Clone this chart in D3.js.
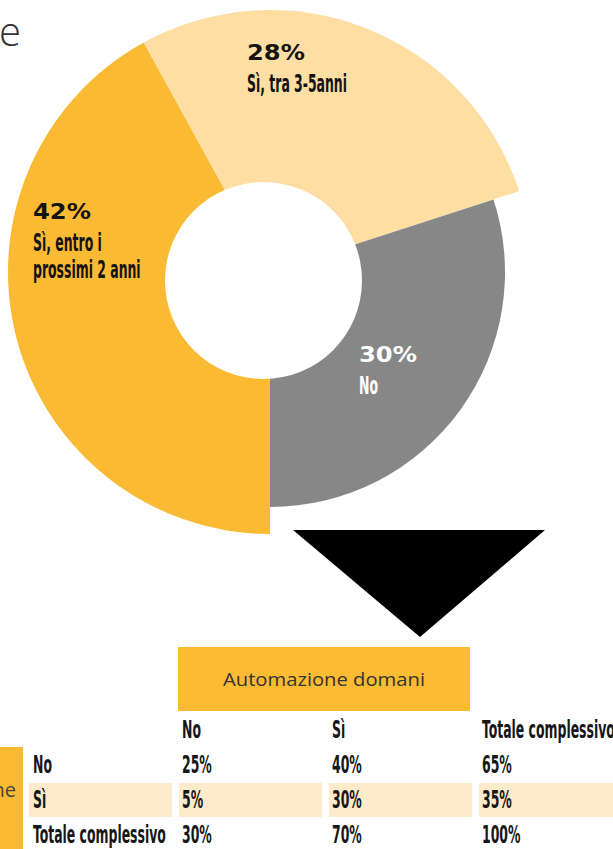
<!DOCTYPE html>
<html><head><meta charset="utf-8">
<script src="https://cdn.jsdelivr.net/npm/d3@7"></script>
<style>body{margin:0;background:#fff}svg{display:block}</style>
</head><body>
<script>
// ---- data ----
const sliceLabels = ["Sì, entro i\nprossimi 2 anni", "Sì, tra 3-5anni", "No"];
const sliceValues = [42, 28, 30];
const colHeaders = ["No", "Sì", "Totale complessivo"];
const rowHeaders = ["No", "Sì", "Totale complessivo"];
const cellValues = [[25, 40, 65], [5, 30, 35], [30, 70, 100]];
const tableTitle = "Automazione domani";
const rowTitle = "Automazione oggi";

// ---- style ----
const W = 613, H = 849;
const sliceColors = ["#FBBA33", "#FEDEA3", "#878787"];
const sliceRadius = [262, 262, 235];
const labelAt = [[33, 219], [247, 60], [359, 362]];
const labelInk = ["#141414", "#141414", "#ffffff"];
const condFont = "'Liberation Sans Narrow','DejaVu Sans Condensed','Liberation Sans',sans-serif";
const pctFont = "'DejaVu Sans',sans-serif";
const condSize = 25;

const svg = d3.select("body").append("svg").attr("width", W).attr("height", H);

// cut-off title
svg.append("text").attr("x", -1).attr("y", 46).text("e")
  .attr("font-family", "'Open Sans',sans-serif").attr("font-weight", 300)
  .attr("font-size", 40).attr("fill", "#333");

// ---- donut ----
const pie = d3.pie().sort(null).startAngle(Math.PI).endAngle(3 * Math.PI);
const arcs = pie(sliceValues);
const g = svg.append("g").attr("transform", "translate(270,272)");
g.selectAll("path").data(arcs).join("path")
  .attr("d", (a, i) => d3.arc().innerRadius(0).outerRadius(sliceRadius[i])(a))
  .attr("fill", (a, i) => sliceColors[i]);
svg.append("circle").attr("cx", 263.5).attr("cy", 280.5).attr("r", 98.5).attr("fill", "#fff");

function fitWidth(sel, target) {
  const w = sel.node().getComputedTextLength();
  return target / w;
}
const probe = svg.append("text").attr("font-family", condFont).attr("font-weight", 700)
  .attr("font-size", condSize).text("Totale complessivo");
const kCond = fitWidth(probe, 133);
probe.remove();
const probe2 = svg.append("text").attr("font-family", pctFont).attr("font-weight", 700)
  .attr("font-size", 22).text("42%");
const kPct = fitWidth(probe2, 58);
probe2.remove();

function condText(parent, str, x, y, fill) {
  return parent.append("text")
    .attr("transform", `translate(${x},${y}) scale(${kCond},1)`)
    .attr("font-family", condFont).attr("font-weight", 700)
    .attr("font-size", condSize).attr("fill", fill).text(str);
}

arcs.forEach((a, i) => {
  const [x, y] = labelAt[i];
  svg.append("text")
    .attr("transform", `translate(${x},${y}) scale(${kPct},1)`)
    .attr("font-family", pctFont).attr("font-weight", 700).attr("font-size", 22)
    .attr("fill", labelInk[i]).text(d3.format("d")(a.data) + "%");
  sliceLabels[i].split("\n").forEach((line, j) => {
    condText(svg, line, x, y + 32 + j * 27, labelInk[i]);
  });
});

// arrow triangle
svg.append("path").attr("d", "M293,530 L545,530 L420,637 Z").attr("fill", "#000");

// ---- table ----
svg.append("rect").attr("x", 178).attr("y", 647).attr("width", 292).attr("height", 64).attr("fill", "#FBBB33");
svg.append("text").attr("x", 324).attr("y", 686).attr("text-anchor", "middle")
  .attr("font-family", "'Open Sans',sans-serif").attr("font-size", 19).attr("fill", "#333")
  .attr("textLength", 202).attr("lengthAdjust", "spacingAndGlyphs").text(tableTitle);

svg.append("rect").attr("x", 0).attr("y", 747).attr("width", 23).attr("height", 110).attr("fill", "#FBBA33");
svg.append("text").attr("x", 16).attr("y", 797).attr("text-anchor", "end")
  .attr("font-family", "'Open Sans',sans-serif").attr("font-size", 20).attr("fill", "#444")
  .text(rowTitle.split(" ")[0]);

const xCol = d3.scaleBand().domain(["label", ...colHeaders]).range([31, 631]);
const yRow = d3.scaleBand().domain(["head", ...rowHeaders.map((r, i) => "r" + i)]).range([710, 850]);
const base = k => yRow(k) + 28;

const band = svg.append("g");
["label", ...colHeaders].forEach(c => {
  band.append("rect").attr("x", xCol(c) - 2).attr("y", base("r1") - 25)
    .attr("width", xCol.step() - 7).attr("height", 34).attr("fill", "#FEEBCB");
});

const ink = "#171717";
colHeaders.forEach(c => condText(svg, c, xCol(c) + 1, base("head"), ink));
rowHeaders.forEach((r, i) => {
  condText(svg, r, xCol("label") + 2, base("r" + i), ink);
  cellValues[i].forEach((v, j) => condText(svg, v + "%", xCol(colHeaders[j]) + 1, base("r" + i), ink));
});
</script>
</body></html>
